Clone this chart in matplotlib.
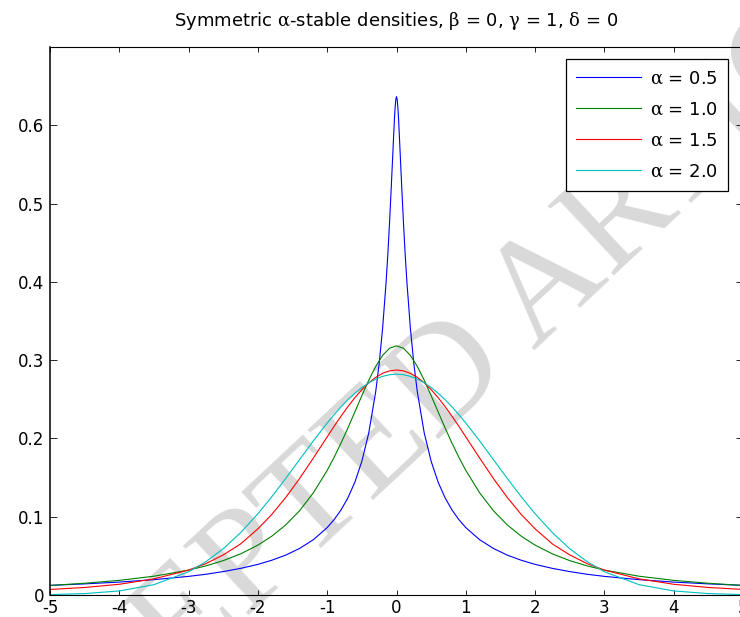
import numpy as np
import matplotlib
matplotlib.use('Agg')
import matplotlib.pyplot as plt

# 1. Data (right half, x >= 0; the densities are symmetric)
x_blue = [0, 0.01, 0.02, 0.03, 0.05, 0.075, 0.1, 0.125, 0.15, 0.2, 0.25, 0.3,
          0.4, 0.5, 0.6, 0.7, 0.8, 0.9, 1.0, 1.2, 1.4, 1.6, 1.8, 2.0, 2.25,
          2.5, 2.75, 3.0, 3.5, 4.0, 4.5, 5.0]
alpha_05 = [0.6366, 0.6329, 0.6226, 0.608, 0.570, 0.522, 0.4764, 0.4353, 0.3998,
            0.3411, 0.2957, 0.2598, 0.2071, 0.1708, 0.1443, 0.1243, 0.1087,
            0.0963, 0.0861, 0.0706, 0.0594, 0.0509, 0.0444, 0.0391, 0.0340,
            0.0299, 0.0265, 0.0238, 0.0196, 0.0165, 0.0142, 0.0123]

x_half = [0, 0.1, 0.2, 0.3, 0.4, 0.5, 0.6, 0.7, 0.8, 0.9, 1.0, 1.2, 1.4, 1.6,
          1.8, 2.0, 2.25, 2.5, 2.75, 3.0, 3.5, 4.0, 4.5, 5.0]
alpha_10 = [0.3183, 0.3152, 0.3061, 0.2920, 0.2744, 0.2546, 0.2341, 0.2136,
            0.1941, 0.1759, 0.1592, 0.1305, 0.1075, 0.0894, 0.0751, 0.0637,
            0.0525, 0.0439, 0.0372, 0.0318, 0.0240, 0.0187, 0.0150, 0.0122]
alpha_15 = [0.2874, 0.2863, 0.2832, 0.2780, 0.2710, 0.2623, 0.2521, 0.2408,
            0.2285, 0.2155, 0.2020, 0.1749, 0.1486, 0.1244, 0.1029, 0.0845,
            0.0652, 0.0512, 0.0401, 0.0318, 0.0206, 0.0137, 0.0096, 0.0071]
alpha_20 = [0.2821, 0.2814, 0.2793, 0.2758, 0.2710, 0.2650, 0.2578, 0.2496,
            0.2404, 0.2304, 0.2197, 0.1968, 0.1728, 0.1487, 0.1255, 0.1038,
            0.0796, 0.0591, 0.0426, 0.0297, 0.0132, 0.0052, 0.0018, 0.0005]

labels = ['0.5', '1.0', '1.5', '2.0']
x_ticks = [-5, -4, -3, -2, -1, 0, 1, 2, 3, 4, 5]
y_ticks = [0, 0.1, 0.2, 0.3, 0.4, 0.5, 0.6]


def mirror(x, y):
    x = np.asarray(x)
    y = np.asarray(y)
    return np.concatenate([-x[:0:-1], x]), np.concatenate([y[:0:-1], y])


# 2. Style (MATLAB look)
plt.rcParams['font.family'] = ['DejaVu Sans']
plt.rcParams['mathtext.fontset'] = 'custom'
plt.rcParams['mathtext.rm'] = 'DejaVu Serif'
plt.rcParams['mathtext.it'] = 'DejaVu Serif'
plt.rcParams['mathtext.default'] = 'rm'

fig = plt.figure(figsize=(7.4, 6.17), dpi=100)
fig.patch.set_facecolor('white')
ax = fig.add_axes([50 / 740, 22 / 617, 693 / 740, 548 / 617])
ax.set_facecolor('none')

# watermark behind everything
fig.text(445 / 740, 1 - 385 / 617, 'ACCEPTED ARTICLE', rotation=43, ha='center',
         va='center', fontsize=105, family='Liberation Serif', color='#d9d9d9',
         zorder=-1)

# 3. Curves
series = [(x_blue, alpha_05, '#0000ff'),
          (x_half, alpha_10, '#008000'),
          (x_half, alpha_15, '#ff0000'),
          (x_half, alpha_20, '#00bfbf')]
for (xs, ys, col), lab in zip(series, labels):
    xf, yf = mirror(xs, ys)
    ax.plot(xf, yf, color=col, lw=0.8, label='$\\alpha$ = ' + lab)

ax.set_xlim(-5, 5)
ax.set_ylim(0, 0.7)
ax.set_xticks(x_ticks)
ax.set_xticklabels([str(t) for t in x_ticks])
ax.set_yticks(y_ticks)
ax.set_yticklabels(['0'] + ['%.1f' % t for t in y_ticks[1:]])
ax.tick_params(direction='in', width=0.6, top=True, right=True, labelsize=12)
ax.tick_params(axis='x', length=3.8, pad=3)
ax.tick_params(axis='y', length=4.8, pad=4)
ax.spines['left'].set_linewidth(1.1)
ax.spines['right'].set_linewidth(1.1)
ax.spines['top'].set_linewidth(0.8)
ax.spines['bottom'].set_linewidth(0.8)

ax.set_title('Symmetric $\\alpha$-stable densities, $\\beta$ = 0, $\\gamma$ = 1, $\\delta$ = 0',
             fontsize=13, pad=15)

leg = ax.legend(loc='upper right', bbox_to_anchor=(0.9788, 0.9787), borderaxespad=0,
                fontsize=13, handlelength=3.6, handletextpad=0.45, labelspacing=0.72,
                borderpad=0.6, fancybox=False, framealpha=1, edgecolor='black')
leg.get_frame().set_linewidth(0.9)

fig.savefig('out.png', dpi=100)
